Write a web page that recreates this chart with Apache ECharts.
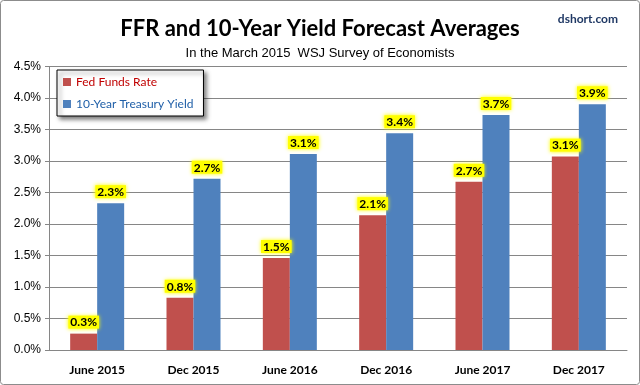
<!DOCTYPE html>
<html><head><meta charset="utf-8">
<script src="https://cdn.jsdelivr.net/npm/echarts@6/dist/echarts.min.js"></script>
<style>html,body{margin:0;padding:0;background:#fff}#c{width:640px;height:385px}</style>
</head><body><div id="c"></div>
<script>
const categories = ['June 2015','Dec 2015','June 2016','Dec 2016','June 2017','Dec 2017'];
const fedFunds = [0.26, 0.83, 1.46, 2.14, 2.67, 3.07];
const treasury10y = [2.33, 2.72, 3.11, 3.44, 3.73, 3.90];
const yTicks = [0, 0.5, 1.0, 1.5, 2.0, 2.5, 3.0, 3.5, 4.0, 4.5];

const chart = echarts.init(document.getElementById('c'), null, {renderer:'canvas'});
const labelCfg = {
  show: true, position: 'top', distance: 5,
  formatter: p => p.value.toFixed(1) + '%',
  backgroundColor: '#FFFF00', color: '#000', fontWeight: 'bold',
  fontFamily: 'Lato', fontSize: 12, padding: [1, 2, 0, 2],
  shadowColor: '#FFFF00', shadowBlur: 4
};
chart.setOption({
  animation: false,
  backgroundColor: '#fff',
  graphic: [{type:'rect', shape:{x:0.5,y:0.5,width:639,height:384,r:3}, style:{fill:'none', stroke:'#8c8c8c', lineWidth:1}, z:100}],
  title: [
    {text:'FFR and 10-Year Yield Forecast Averages', left:'center', top:13,
     textStyle:{fontFamily:'Lato', fontWeight:'bold', fontSize:22, color:'#000'}},
    {text:'In the March 2015  WSJ Survey of Economists', left:'center', top:42,
     textStyle:{fontFamily:'Liberation Sans', fontWeight:'normal', fontSize:13, color:'#000'}},
    {text:'dshort.com', right:17, top:8,
     textStyle:{fontFamily:'Lato', fontWeight:'bold', fontSize:12, color:'#1F3864'}}
  ],
  legend: {
    orient:'vertical', left:57, top:70, padding:[6,10,6,6], itemGap:10,
    itemWidth:8, itemHeight:8, icon:'rect',
    backgroundColor:'#fff', borderColor:'#000', borderWidth:1,
    shadowColor:'rgba(0,0,0,0.5)', shadowBlur:4, shadowOffsetX:3, shadowOffsetY:3,
    textStyle:{fontFamily:'Lato', fontSize:12},
    data:[
      {name:'Fed Funds Rate', textStyle:{color:'#C00000'}},
      {name:'10-Year Treasury Yield', textStyle:{color:'#1F5FA8'}}
    ]
  },
  grid: {left:49, right:13, top:66.5, bottom:35},
  xAxis: {
    type:'category', data:categories,
    axisLine:{lineStyle:{color:'#868686'}}, axisTick:{show:false},
    axisLabel:{fontFamily:'Lato', fontWeight:'bold', fontSize:12, color:'#000', margin:14}
  },
  yAxis: {
    type:'value', min:0, max:4.5, interval:0.5,
    axisLine:{show:true, lineStyle:{color:'#868686'}},
    axisTick:{show:true, inside:false, length:4, lineStyle:{color:'#868686'}},
    splitLine:{lineStyle:{color:'#868686'}},
    axisLabel:{fontFamily:'Liberation Sans', fontSize:12, color:'#000', margin:8,
      formatter: v => v.toFixed(1) + '%'}
  },
  series: [
    {name:'Fed Funds Rate', type:'bar', data:fedFunds, barWidth:27, barGap:'0%',
     itemStyle:{color:'#C0504D'}, label:labelCfg},
    {name:'10-Year Treasury Yield', type:'bar', data:treasury10y, barWidth:27, barGap:'0%',
     itemStyle:{color:'#4F81BD'}, label:labelCfg}
  ]
});
</script></body></html>
